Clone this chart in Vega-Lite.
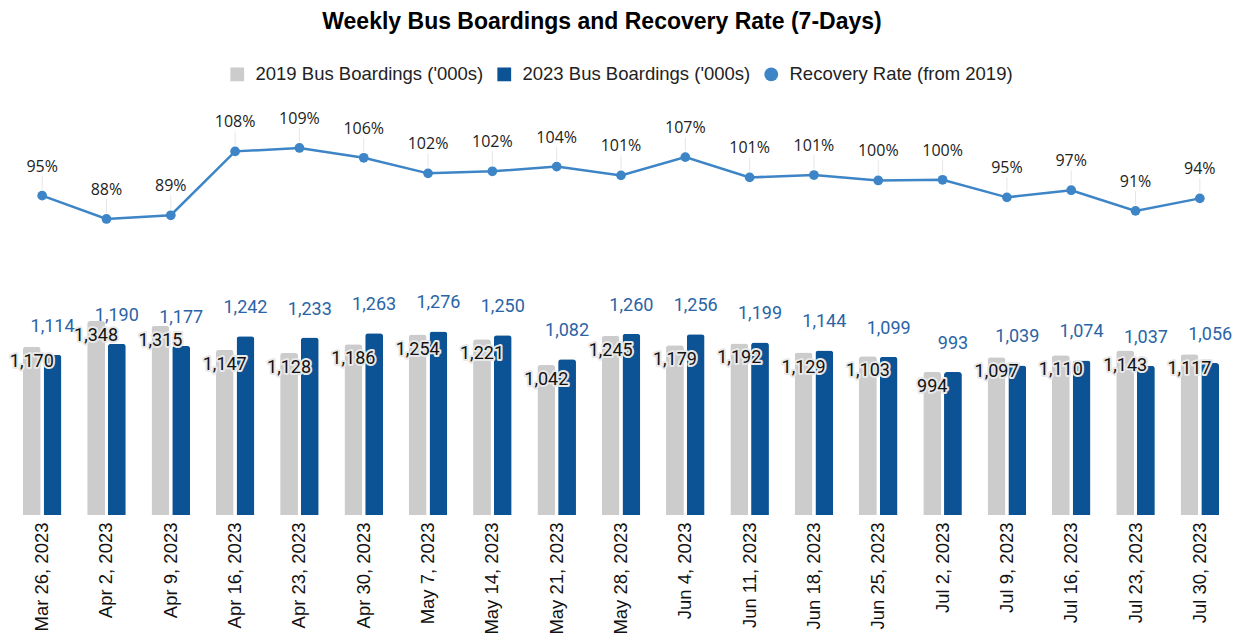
{
  "$schema": "https://vega.github.io/schema/vega-lite/v6.json",
  "autosize": "none",
  "width": 1222,
  "height": 415,
  "padding": {"left": 10, "top": 100, "right": 11, "bottom": 122},
  "background": "white",
  "title": {
    "text": "Weekly Bus Boardings and Recovery Rate (7-Days)",
    "font": "Liberation Sans",
    "fontSize": 23,
    "fontWeight": "bold",
    "color": "#000000",
    "anchor": "middle",
    "dx": -19,
    "offset": 31
  },
  "config": {
    "view": {"stroke": null},
    "axis": {"grid": false}
  },
  "datasets": {
    "bars": [
      {"week": "Mar 26, 2023", "series": "2019 Bus Boardings ('000s)", "value": 1170},
      {"week": "Mar 26, 2023", "series": "2023 Bus Boardings ('000s)", "value": 1114},
      {"week": "Apr 2, 2023", "series": "2019 Bus Boardings ('000s)", "value": 1348},
      {"week": "Apr 2, 2023", "series": "2023 Bus Boardings ('000s)", "value": 1190},
      {"week": "Apr 9, 2023", "series": "2019 Bus Boardings ('000s)", "value": 1315},
      {"week": "Apr 9, 2023", "series": "2023 Bus Boardings ('000s)", "value": 1177},
      {"week": "Apr 16, 2023", "series": "2019 Bus Boardings ('000s)", "value": 1147},
      {"week": "Apr 16, 2023", "series": "2023 Bus Boardings ('000s)", "value": 1242},
      {"week": "Apr 23, 2023", "series": "2019 Bus Boardings ('000s)", "value": 1128},
      {"week": "Apr 23, 2023", "series": "2023 Bus Boardings ('000s)", "value": 1233},
      {"week": "Apr 30, 2023", "series": "2019 Bus Boardings ('000s)", "value": 1186},
      {"week": "Apr 30, 2023", "series": "2023 Bus Boardings ('000s)", "value": 1263},
      {"week": "May 7, 2023", "series": "2019 Bus Boardings ('000s)", "value": 1254},
      {"week": "May 7, 2023", "series": "2023 Bus Boardings ('000s)", "value": 1276},
      {"week": "May 14, 2023", "series": "2019 Bus Boardings ('000s)", "value": 1221},
      {"week": "May 14, 2023", "series": "2023 Bus Boardings ('000s)", "value": 1250},
      {"week": "May 21, 2023", "series": "2019 Bus Boardings ('000s)", "value": 1042},
      {"week": "May 21, 2023", "series": "2023 Bus Boardings ('000s)", "value": 1082},
      {"week": "May 28, 2023", "series": "2019 Bus Boardings ('000s)", "value": 1245},
      {"week": "May 28, 2023", "series": "2023 Bus Boardings ('000s)", "value": 1260},
      {"week": "Jun 4, 2023", "series": "2019 Bus Boardings ('000s)", "value": 1179},
      {"week": "Jun 4, 2023", "series": "2023 Bus Boardings ('000s)", "value": 1256},
      {"week": "Jun 11, 2023", "series": "2019 Bus Boardings ('000s)", "value": 1192},
      {"week": "Jun 11, 2023", "series": "2023 Bus Boardings ('000s)", "value": 1199},
      {"week": "Jun 18, 2023", "series": "2019 Bus Boardings ('000s)", "value": 1129},
      {"week": "Jun 18, 2023", "series": "2023 Bus Boardings ('000s)", "value": 1144},
      {"week": "Jun 25, 2023", "series": "2019 Bus Boardings ('000s)", "value": 1103},
      {"week": "Jun 25, 2023", "series": "2023 Bus Boardings ('000s)", "value": 1099},
      {"week": "Jul 2, 2023", "series": "2019 Bus Boardings ('000s)", "value": 994},
      {"week": "Jul 2, 2023", "series": "2023 Bus Boardings ('000s)", "value": 993},
      {"week": "Jul 9, 2023", "series": "2019 Bus Boardings ('000s)", "value": 1097},
      {"week": "Jul 9, 2023", "series": "2023 Bus Boardings ('000s)", "value": 1039},
      {"week": "Jul 16, 2023", "series": "2019 Bus Boardings ('000s)", "value": 1110},
      {"week": "Jul 16, 2023", "series": "2023 Bus Boardings ('000s)", "value": 1074},
      {"week": "Jul 23, 2023", "series": "2019 Bus Boardings ('000s)", "value": 1143},
      {"week": "Jul 23, 2023", "series": "2023 Bus Boardings ('000s)", "value": 1037},
      {"week": "Jul 30, 2023", "series": "2019 Bus Boardings ('000s)", "value": 1117},
      {"week": "Jul 30, 2023", "series": "2023 Bus Boardings ('000s)", "value": 1056}
    ],
    "rate": [
      {"week": "Mar 26, 2023", "rate": 0.952},
      {"week": "Apr 2, 2023", "rate": 0.883},
      {"week": "Apr 9, 2023", "rate": 0.894},
      {"week": "Apr 16, 2023", "rate": 1.083},
      {"week": "Apr 23, 2023", "rate": 1.093},
      {"week": "Apr 30, 2023", "rate": 1.064},
      {"week": "May 7, 2023", "rate": 1.018},
      {"week": "May 14, 2023", "rate": 1.024},
      {"week": "May 21, 2023", "rate": 1.038},
      {"week": "May 28, 2023", "rate": 1.012},
      {"week": "Jun 4, 2023", "rate": 1.066},
      {"week": "Jun 11, 2023", "rate": 1.006},
      {"week": "Jun 18, 2023", "rate": 1.013},
      {"week": "Jun 25, 2023", "rate": 0.997},
      {"week": "Jul 2, 2023", "rate": 0.999},
      {"week": "Jul 9, 2023", "rate": 0.947},
      {"week": "Jul 16, 2023", "rate": 0.968},
      {"week": "Jul 23, 2023", "rate": 0.907},
      {"week": "Jul 30, 2023", "rate": 0.944}
    ]
  },
  "encoding": {
    "x": {
      "field": "week",
      "type": "ordinal",
      "scale": {
        "domain": ["Mar 26, 2023","Apr 2, 2023","Apr 9, 2023","Apr 16, 2023","Apr 23, 2023","Apr 30, 2023","May 7, 2023","May 14, 2023","May 21, 2023","May 28, 2023","Jun 4, 2023","Jun 11, 2023","Jun 18, 2023","Jun 25, 2023","Jul 2, 2023","Jul 9, 2023","Jul 16, 2023","Jul 23, 2023","Jul 30, 2023"],
        "paddingInner": 0.4,
        "paddingOuter": 0.2
      },
      "axis": {
        "title": null,
        "labelAngle": -90,
        "labelFont": "Liberation Sans",
        "labelFontSize": 18.5,
        "labelColor": "#111111",
        "labelPadding": 7,
        "domain": false,
        "ticks": false
      }
    }
  },
  "layer": [
    {
      "data": {"name": "bars"},
      "layer": [
        {
          "mark": {"type": "bar", "cornerRadiusTopLeft": 3, "cornerRadiusTopRight": 3},
          "encoding": {
            "xOffset": {"field": "series", "type": "nominal", "scale": {"paddingInner": 0.14, "paddingOuter": 0}},
            "y": {"field": "value", "type": "quantitative", "scale": {"domain": [0, 2884], "nice": false, "zero": false}, "axis": null},
            "color": {
              "field": "series",
              "type": "nominal",
              "scale": {
                "domain": ["2019 Bus Boardings ('000s)", "2023 Bus Boardings ('000s)", "Recovery Rate (from 2019)"],
                "range": ["#cccccc", "#0b5394", "#3d85c6"]
              },
              "legend": {
                "title": null,
                "orient": "none",
                "legendX": 218,
                "legendY": -35,
                "direction": "horizontal",
                "labelFont": "Liberation Sans",
                "labelFontSize": 18.5,
                "labelColor": "#222222",
                "labelLimit": 400,
                "symbolSize": 190,
                "symbolStrokeWidth": 0,
                "labelOffset": 9,
                "columnPadding": 11,
                "encode": {
                  "symbols": {
                    "update": {
                      "shape": {"signal": "datum.value === 'Recovery Rate (from 2019)' ? 'circle' : 'square'"},
                      "strokeWidth": {"value": 0}
                    }
                  }
                }
              }
            }
          }
        },
        {
          "transform": [{"filter": "datum.series === \"2019 Bus Boardings ('000s)\""}],
          "mark": {"type": "text", "font": "Roboto", "fontSize": 18, "dy": 15, "baseline": "middle", "stroke": "#e8e8e8", "strokeWidth": 4, "strokeJoin": "round", "fill": "#e8e8e8"},
          "encoding": {
            "xOffset": {"field": "series", "type": "nominal"},
            "y": {"field": "value", "type": "quantitative"},
            "text": {"field": "value", "type": "quantitative", "format": ","}
          }
        },
        {
          "transform": [{"filter": "datum.series === \"2019 Bus Boardings ('000s)\""}],
          "mark": {"type": "text", "font": "Roboto", "fontSize": 18, "dy": 15, "baseline": "middle", "fill": "#111111"},
          "encoding": {
            "xOffset": {"field": "series", "type": "nominal"},
            "y": {"field": "value", "type": "quantitative"},
            "text": {"field": "value", "type": "quantitative", "format": ","}
          }
        },
        {
          "transform": [{"filter": "datum.series === \"2023 Bus Boardings ('000s)\""}],
          "mark": {"type": "text", "font": "Roboto", "fontSize": 18, "dy": -28, "baseline": "middle", "fill": "#2a64a6"},
          "encoding": {
            "xOffset": {"field": "series", "type": "nominal"},
            "y": {"field": "value", "type": "quantitative"},
            "text": {"field": "value", "type": "quantitative", "format": ","}
          }
        }
      ]
    },
    {
      "data": {"name": "rate"},
      "encoding": {
        "y": {"field": "rate", "type": "quantitative", "scale": {"domain": [0.0072, 1.235], "nice": false, "zero": false}, "axis": null}
      },
      "layer": [
        {
          "mark": {"type": "rule", "color": "#e6e6e6", "strokeWidth": 1, "yOffset": -6, "y2Offset": -20},
          "encoding": {"y2": {"field": "rate"}}
        },
        {
          "mark": {"type": "line", "color": "#3d85c6", "strokeWidth": 2.5},
          "encoding": {}
        },
        {
          "mark": {"type": "circle", "color": "#3d85c6", "size": 95, "opacity": 1},
          "encoding": {}
        },
        {
          "mark": {"type": "text", "font": "Open Sans", "fontSize": 16, "dy": -29, "baseline": "middle", "fill": "#222222"},
          "encoding": {"text": {"field": "rate", "type": "quantitative", "format": ".0%"}}
        }
      ]
    }
  ],
  "resolve": {"scale": {"y": "independent"}}
}
